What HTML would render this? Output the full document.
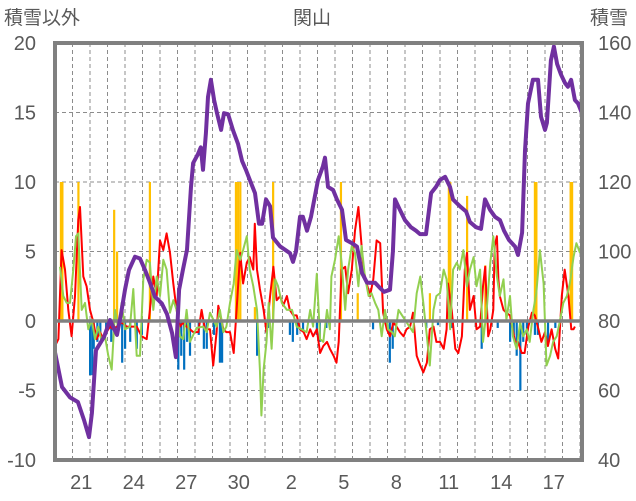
<!DOCTYPE html>
<html><head><meta charset="utf-8"><style>
html,body{margin:0;padding:0;background:#fff;}
svg{display:block;font-family:"Liberation Sans","Noto Sans CJK JP",sans-serif;}
</style></head><body>
<svg id="chart" width="636" height="501" viewBox="0 0 636 501"></svg>
<script>
const leftTicks = [20, 15, 10, 5, 0, -5, -10];
const rightTicks = [160, 140, 120, 100, 80, 60, 40];
const dayLabels = ["21","24","27","30","2","5","8","11","14","17"];
const dayLabelIndex = [1,4,7,10,13,16,19,22,25,28];
const totalHours = 722.7;

const snowT = [0,9.6,20.6,31.4,39.8,46.6,50.6,56.2,67.2,75.4,85,90.5,96,101.5,109.7,116.6,123.4,130.3,137,146.6,153.6,160.6,165.8,170.2,175.4,181,186.5,189.4,196,200,203,207,209.8,213.8,218.2,222.2,227.8,231.8,237.4,244,251,256.6,261.8,268.8,274.3,279.8,284,289.4,295,299,308.6,322.3,326.4,330.5,336,340,345.6,351,360.7,367.4,370.3,374.4,381.4,386.6,393.6,399,407.3,414.2,421,428,439,445.7,451.2,459.4,463.4,466.3,473,480,488,495,500.6,508.8,515.8,522.5,528,535,541.7,545.8,555.4,563.8,569,577.4,584.2,589.7,596.6,603.4,610.3,615.8,622.6,631,635,640.6,644.6,648.7,655.4,662.4,666.5,672,674.6,680,684.2,688.6,693.8,699.4,703.4,707.8,713,717.4,722.6];
const snowV = [71,61,58,56.7,51.5,46.6,53.5,71.6,75.4,80.3,76,82,89,94.7,98.5,98,94.7,91,87,85,82,76.5,69.6,89,94.7,100.5,118.6,125.4,128,130,123.5,134,144.5,149.4,143.6,139.8,135,139.8,139.5,135,131,126,123.5,119.7,116.8,108,108,115,113,104,101.5,99.5,97,100,110,110,106,110,120.6,124.5,127,118.6,117.7,115,112,103.3,102.4,101.4,93.8,91,91,89.5,88.4,89,100,115,112,109,107,106,105,105,116.8,118.6,120.6,121.5,118.6,115,113,111.5,108.5,107,106.5,115,112,110,109,106,103.3,101.4,99,105.4,129,142.6,149.4,149.4,138.8,135,137,155,159,154,151,148.5,147.4,149.4,143.6,142.6,139.8];

const redT = [0,4.6,9.1,13.7,18.3,22.8,27.4,32,34.3,38.8,43.4,48,52.6,57.1,61.7,66.3,70.8,75.4,80,84.5,91.4,98.3,105.1,112,118.8,125.7,130.2,134.8,139.4,144,148.5,153.1,157.7,162.2,166.8,171.4,176,180.5,185,189.6,196.5,201,205.6,212.5,217,221.6,223.9,231,235,240,245,249,254,258,263,267,272,274,277,281,286,290,295,299.5,304,309,313,318,322,327,331.5,336,341,345,350,354,359,363.5,368,373,377,382,386,389,393,398,402,407,411.4,416,418,423,427.4,432,436.5,441,446,450,455,459.4,464,468.5,473,478,482,487,491,496,501,505,510,514,519,523,528,533,537,539,544,549,553,558,562,565,569,574,578,583,587,590,594,597,601,603,606,608,610,615,619,624,631,635,640,644,649,654,658,663,667,672,676,681,686,690,695,699,704,708,711,713,718,720];
const redV = [-1.8,-1.3,5.1,3.7,0.8,-1.1,1.8,7.3,8.2,3.2,2.5,0.8,-0.1,-1.3,-0.8,-1.3,-0.8,-0.4,-0.6,-0.4,-0.1,-0.4,-0.4,-0.4,-1.1,-1.3,0.8,3.2,1.8,5.8,5.1,6.3,4.9,2.7,0.8,-0.4,-0.1,-0.4,-0.6,-0.8,-0.8,0.8,-0.6,-0.6,-3.2,-0.8,1.1,-0.6,-0.8,-0.8,-2.3,0.8,4.9,2.7,4.2,4.6,3.7,7.0,3.7,2.3,0.8,-0.8,1.8,3.9,1.5,1.8,1.1,1.8,0.8,0.4,0.4,-0.6,-0.8,-1.3,-0.6,-1.1,-0.6,-2.3,-1.8,-1.5,-2.0,-2.5,-3.0,-1.5,3.7,3.9,2.0,3.7,6.5,8.2,7.0,3.7,2.7,1.8,3.0,5.8,5.6,0.6,-0.6,-1.1,-0.1,-0.4,-0.8,-1.1,-0.6,-0.4,0.6,-2.5,-3.2,-3.7,-3.0,-0.6,-0.4,-1.5,-1.5,-2.0,-0.6,2.7,0.8,-2.0,-2.3,-1.1,3.7,4.9,0.8,1.8,-0.6,-0.4,2.5,3.9,-1.1,-0.6,0.8,5.4,6.1,3.0,1.8,0.8,0.6,0.4,-1.5,-1.5,-2.3,-2.3,-0.4,0.6,0.4,-0.6,-1.5,-0.8,-1.8,-0.6,-2.0,-2.7,1.8,3.7,1.8,-0.6,-0.6,-0.4];

const greenT = [6.9,11.4,16,20.6,25.1,28.8,32,36.6,41.1,45.7,50.3,54.8,59.4,64,68.5,73.1,77.7,82.3,86.8,91.4,96,102.8,107.4,112,116.5,121.1,125.7,130.2,134.8,139.4,144,148.5,153.1,157.7,162.2,166.8,171.4,176,180.5,185,194.2,203.4,208,212.5,221.6,226.2,231,235,240,245,249,254,258,263,267,272,277,281,283,286,290,293,297,302,306,311,318,325,331.5,338,345,350,354,359,363.5,368,373,377,379,384,389,393,398,402,407,411.4,416,420.5,425,430,434,439,443.4,448,452.5,457,462,466,471,491,496,501,505,510,514,519,523,528,533,537,542,546,551,555,560,565,569,574,578,583,587,592,597,601,606,610,615,619,624,628,633,638,642,647,651,656,660,665,670,674,679,683,688,692,697,702,706,711,715,720];
const greenV = [3.9,1.8,1.3,1.3,3.7,6.1,6.3,0.8,1.3,-0.6,0.1,-1.3,-0.4,-1.5,-1.1,-2.5,-3.5,0.8,-0.6,1.3,-0.6,-0.4,2.3,-2.5,-2.5,3.0,4.4,4.2,0.8,3.2,1.8,4.4,3.7,0.6,1.5,0.8,-1.1,-1.3,0.8,-1.5,-0.5,-0.4,-0.8,0.6,-0.4,0.8,-0.8,-0.4,1.3,2.7,5.1,4.4,5.1,6.1,3.7,2.5,0.8,-3.5,-6.8,-3.5,-1.5,1.3,-2.0,3.0,2.5,1.3,0.8,0.8,-0.4,-0.6,-0.8,0.8,-0.4,3.4,-1.3,-1.5,0.8,-0.6,3.2,4.4,6.1,4.2,0.8,3.7,5.4,4.9,2.5,5.4,3.2,1.8,2.0,1.3,0.8,-1.1,0.8,-0.6,-0.8,-1.1,0.8,-0.8,2.0,3.2,1.3,-1.1,-3.2,0.8,1.8,2.0,3.7,3.0,-0.6,3.7,4.2,3.7,5.1,2.5,3.7,4.6,2.5,3.7,-1.5,0.8,4.2,6.1,3.2,1.8,3.0,0.1,1.8,-1.1,-2.0,-0.1,-1.1,-0.6,-1.5,0.8,2.0,5.1,2.7,-3.2,-2.5,-1.5,-1.1,-0.1,1.3,1.8,2.7,4.6,5.6,4.9];

const fallT = [8,10,32,81,85,130,248,251,254,274,299,392,415,514,540,542,565,590,658,660,707,709];
const fallV = [10,10,10,8,5,10,10,10,10,1,10,10,2,2,10,10,9,4,10,10,10,10];

const meltT = [48,51,53,58,62,70,77,92,96,103,112,119,169,173,177,181,185,197,204,208,218,226,229,277,292,322,326,332,340,359,363,372,436,459,463,509,525,544,585,607,624,629,633,638,642,647,658,662,676,686];
const meltV = [-3.9,-3.9,-2,-1.5,-1,-1,-1.5,-3,-2,-1.5,-2,-1,-3.5,-2.5,-3.5,-1.5,-2.5,-1,-2,-2,-1,-3,-3,-2.5,-0.5,-1,-1.5,-1,-0.8,-1,-1.5,-0.5,-0.6,-3,-2,-0.5,-0.3,-0.5,-2,-0.5,-1.5,-1,-2.5,-5,-1.5,-1,-1,-1,-1.5,-0.5];

const NS = "http://www.w3.org/2000/svg";
const svg = document.getElementById("chart");
const L = 55, R = 582, T = 43, B = 460;
const xH = h => L + h / totalHours * (R - L);
const yL = v => T + (20 - v) / 30 * (B - T);
const yR = v => T + (160 - v) / 120 * (B - T);
function mk(tag, attrs, parent) {
  const e = document.createElementNS(NS, tag);
  for (const k in attrs) e.setAttribute(k, attrs[k]);
  (parent || svg).appendChild(e);
  return e;
}
function txt(s, x, y, anchor, size, name) {
  const t = mk("text", {x: x, y: y, "text-anchor": anchor, "font-size": size, fill: "#595959"});
  t.textContent = s;
  
  
  return t;
}
// grid
const grid = mk("g", {});


for (let d = 1; d < 31; d++) {
  const x = L + d * 17.5;
  if (x >= R - 1) break;
  mk("line", {x1: x, x2: x, y1: T, y2: B, stroke: "#8c8c8c", "stroke-width": 1, "stroke-dasharray": "4,3"}, grid);
}
leftTicks.forEach((v, i) => {
  if (v !== 0 && v !== 20 && v !== -10) mk("line", {x1: L, x2: R, y1: yL(v), y2: yL(v), stroke: "#8c8c8c", "stroke-width": 1, "stroke-dasharray": "4,3"}, grid);
  txt(String(v), 36, yL(v) + 7, "end", 20, "left-tick-label");
  txt(String(rightTicks[i]), 598, yR(rightTicks[i]) + 7, "start", 20, "right-tick-label");
});
dayLabels.forEach((s, i) => txt(s, L + (dayLabelIndex[i] + 0.5) * 17.5, 489, "middle", 20, "x-tick-label"));
txt("関山", 312, 24, "middle", 19, "chart-title");
txt("積雪以外", 4, 24, "start", 19, "left-axis-title");
txt("積雪", 590, 24, "start", 19, "right-axis-title");

// bars
const bars = mk("g", {});


fallT.forEach((h, i) => {
  const r = mk("rect", {x: xH(h) - 1, y: yL(fallV[i]), width: 2.2, height: yL(0) - yL(fallV[i]), fill: "#FFC000"}, bars);
  
});
const mb = mk("g", {});


meltT.forEach((h, i) => {
  const r = mk("rect", {x: xH(h) - 1, y: yL(0), width: 2.2, height: yL(meltV[i]) - yL(0), fill: "#0070C0"}, mb);
  
});
function line(ts, vs, yf, color, w, name) {
  const p = mk("polyline", {points: ts.map((t, i) => xH(t).toFixed(1) + "," + yf(vs[i]).toFixed(1)).join(" "), fill: "none", stroke: color, "stroke-width": w, "stroke-linejoin": "round"});
  
  
}
line(redT, redV, yL, "#FF0000", 2, "red-series-line");
line(greenT, greenV, yL, "#92D050", 2, "green-series-line");
// zero line
mk("line", {x1: L, x2: R, y1: yL(0), y2: yL(0), stroke: "#808080", "stroke-width": 3.5});
line(snowT, snowV, yR, "#7030A0", 4, "snow-depth-line");
const fr = mk("rect", {x: L, y: T, width: R - L, height: B - T, fill: "none", stroke: "#808080", "stroke-width": 4});


</script>
</body></html>
